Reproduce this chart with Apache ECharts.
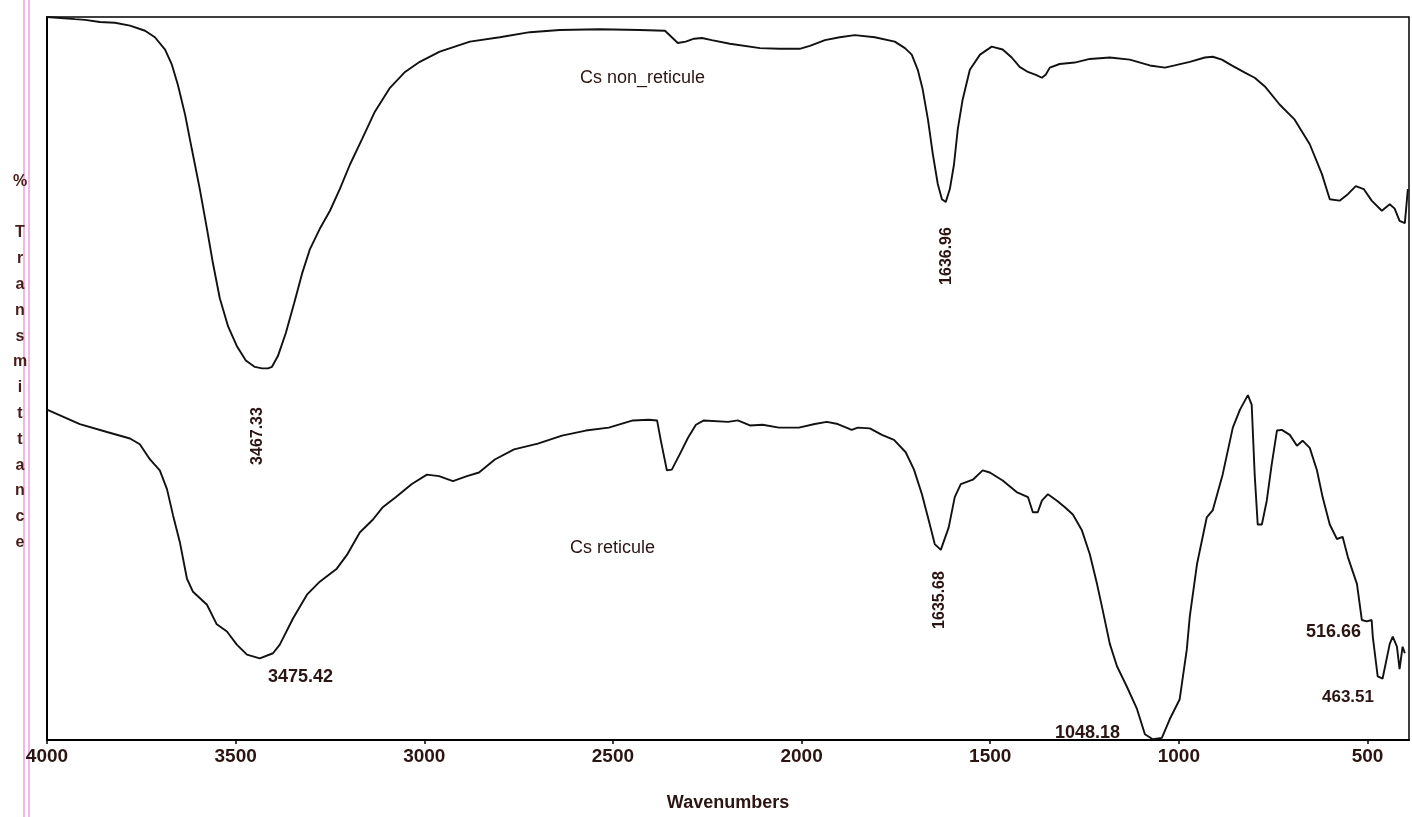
<!DOCTYPE html>
<html>
<head>
<meta charset="utf-8">
<script src="https://cdn.jsdelivr.net/npm/echarts@6/dist/echarts.min.js"></script>
<style>
html,body{margin:0;padding:0;background:#fff;}
#chart{width:1412px;height:817px;}
</style>
</head>
<body>
<div id="chart"></div>
<script>
// x-axis tick labels (wavenumbers, cm-1)
const xTicks = [500, 1000, 1500, 2000, 2500, 3000, 3500, 4000];

// Series names
const seriesNames = ['Cs non_reticule', 'Cs reticule'];

// Cs non_reticule : [wavenumber, %T]
const nonReticule = [
[4000,100.0],[3926,99.7],[3899,99.6],[3860,99.3],[3820,99.2],[3780,98.8],[3740,98.1],[3714,97.2],[3687,95.5],[3669,93.4],[3653,90.6],[3634,86.5],[3616,81.7],[3595,76.2],[3576,70.7],[3560,65.9],[3542,61.1],[3520,57.2],[3497,54.5],[3473,52.5],[3449,51.6],[3430,51.4],[3414,51.4],[3404,51.6],[3388,53.1],[3367,56.3],[3345,60.4],[3324,64.5],[3303,67.9],[3277,70.7],[3250,73.2],[3224,76.2],[3197,79.6],[3165,83.1],[3131,86.9],[3091,90.2],[3051,92.4],[3012,93.8],[2959,95.2],[2879,96.6],[2800,97.2],[2720,97.9],[2641,98.2],[2535,98.3],[2429,98.2],[2362,98.1],[2344,97.2],[2328,96.4],[2307,96.6],[2285,97.0],[2264,97.1],[2238,96.8],[2190,96.3],[2110,95.7],[2058,95.6],[2005,95.6],[1978,96.0],[1938,96.8],[1899,97.2],[1859,97.5],[1806,97.2],[1753,96.6],[1726,95.7],[1708,94.8],[1692,92.7],[1679,90.0],[1665,85.8],[1652,81.0],[1639,76.9],[1628,74.8],[1618,74.4],[1607,76.2],[1596,79.6],[1586,84.5],[1573,88.6],[1554,92.7],[1527,94.8],[1496,95.9],[1467,95.5],[1443,94.4],[1422,93.1],[1400,92.4],[1379,92.0],[1363,91.6],[1353,92.0],[1342,93.0],[1316,93.5],[1276,93.7],[1236,94.2],[1183,94.4],[1130,94.1],[1077,93.3],[1037,93.0],[1011,93.3],[971,93.8],[931,94.4],[910,94.5],[886,94.1],[860,93.3],[825,92.3],[799,91.6],[772,90.4],[733,87.9],[693,85.8],[653,82.4],[621,78.3],[600,74.8],[574,74.6],[552,75.5],[531,76.6],[510,76.2],[489,74.6],[462,73.2],[441,74.1],[428,73.5],[415,71.8],[401,71.5],[393,76.2]
];

// Cs reticule : [wavenumber, %T]
const reticule = [
[4000,45.7],[3913,43.7],[3841,42.6],[3780,41.7],[3754,40.9],[3727,38.8],[3701,37.3],[3682,34.7],[3666,31.1],[3648,27.4],[3629,22.3],[3613,20.5],[3576,18.7],[3550,16.0],[3523,15.0],[3497,13.2],[3470,11.8],[3436,11.3],[3401,12.0],[3383,13.2],[3348,16.8],[3311,20.1],[3277,21.9],[3232,23.7],[3205,25.6],[3171,28.7],[3136,30.5],[3110,32.2],[3075,33.6],[3033,35.4],[2993,36.7],[2961,36.5],[2924,35.8],[2887,36.5],[2855,37.0],[2813,38.8],[2762,40.2],[2699,41.0],[2635,42.1],[2572,42.8],[2511,43.2],[2447,44.2],[2405,44.3],[2383,44.2],[2373,41.4],[2357,37.3],[2344,37.4],[2323,39.5],[2301,41.8],[2280,43.6],[2259,44.2],[2195,44.0],[2169,44.2],[2137,43.5],[2103,43.6],[2060,43.2],[2007,43.2],[1965,43.7],[1933,44.0],[1904,43.7],[1867,42.9],[1851,43.2],[1819,43.1],[1787,42.2],[1755,41.5],[1724,39.8],[1702,37.4],[1681,34.0],[1663,30.4],[1647,27.1],[1631,26.3],[1610,29.4],[1594,33.6],[1578,35.4],[1546,36.0],[1520,37.3],[1501,37.0],[1467,35.9],[1430,34.3],[1400,33.6],[1387,31.5],[1374,31.5],[1363,33.1],[1347,34.0],[1323,33.1],[1302,32.2],[1281,31.2],[1257,29.0],[1236,25.7],[1217,21.6],[1202,18.0],[1183,13.3],[1164,10.2],[1138,7.4],[1111,4.3],[1090,0.8],[1069,0.1],[1045,0.3],[1024,2.9],[998,5.6],[979,12.5],[971,17.1],[952,24.3],[926,30.8],[910,31.8],[884,36.7],[857,43.2],[838,45.7],[817,47.7],[807,46.4],[799,36.7],[791,29.8],[780,29.8],[767,33.1],[754,38.1],[740,42.8],[727,42.9],[706,42.2],[687,40.7],[672,41.4],[653,40.4],[634,37.3],[619,33.6],[600,29.8],[581,27.8],[566,28.1],[552,25.3],[528,21.6],[515,16.6],[502,16.4],[489,16.6],[486,14.3],[473,8.8],[460,8.5],[441,13.3],[433,14.3],[422,12.9],[415,9.8],[407,12.9],[401,12.0]
];

// Peak annotation texts
const peakLabels = ['3467.33', '1636.96', '3475.42', '1635.68', '1048.18', '516.66', '463.51'];
const axisTitleX = 'Wavenumbers';
const axisTitleY = '%\n\nT\nr\na\nn\ns\nm\ni\nt\nt\na\nn\nc\ne';

const TXT = '#2b1512';
const FONT = '"Liberation Sans",Arial,sans-serif';

const chart = echarts.init(document.getElementById('chart'), null, {renderer: 'canvas'});

function txt(text, x, y, opts) {
  opts = opts || {};
  return {
    type: 'text', x: x, y: y, rotation: opts.rot || 0, z: 100,
    style: {
      text: text, fill: opts.color || TXT,
      font: (opts.weight || 'normal') + ' ' + (opts.size || 15) + 'px ' + (opts.family || FONT),
      align: opts.align || 'left', verticalAlign: 'middle',
      lineHeight: opts.lh
    }
  };
}

const option = {
  backgroundColor: '#ffffff',
  animation: false,
  grid: {
    left: 47, right: 3, top: 17, bottom: 73,
    show: true, borderColor: '#000', borderWidth: 1.5, backgroundColor: 'transparent'
  },
  xAxis: {
    type: 'value', inverse: true, min: 390, max: 4000,
    name: axisTitleX, nameLocation: 'middle', nameGap: 54,
    nameTextStyle: {color: TXT, fontSize: 18, fontWeight: 'bold', fontFamily: FONT},
    axisLine: {show: true, onZero: false, lineStyle: {color: '#000', width: 2}},
    axisTick: {show: true, inside: false, length: 4, customValues: xTicks, lineStyle: {color: '#000', width: 1.5}},
    axisLabel: {show: true, customValues: xTicks, margin: 7, color: TXT, fontSize: 19, fontWeight: 'bold',
      fontFamily: FONT, formatter: function (v) { return String(v); }},
    splitLine: {show: false}
  },
  yAxis: {
    type: 'value', min: 0, max: 100,
    axisLine: {show: true, lineStyle: {color: '#000', width: 2}},
    axisTick: {show: false}, axisLabel: {show: false}, splitLine: {show: false}
  },
  series: [
    {name: seriesNames[0], type: 'line', data: nonReticule, showSymbol: false, smooth: false,
      lineStyle: {color: '#111', width: 1.9}, clip: false},
    {name: seriesNames[1], type: 'line', data: reticule, showSymbol: false, smooth: false,
      lineStyle: {color: '#111', width: 1.9}, clip: false}
  ],
  graphic: [
    {type: 'line', shape: {x1: 24, y1: 0, x2: 24, y2: 817}, style: {stroke: '#e9a3dc', lineWidth: 1.5}},
    {type: 'line', shape: {x1: 29, y1: 0, x2: 29, y2: 817}, style: {stroke: '#e9a3dc', lineWidth: 1.5}},
    txt(axisTitleY, 20, 362, {align: 'center', weight: 'bold', size: 16, lh: 25.8, color: '#4a1c18'}),
    txt(seriesNames[0], 580, 78, {size: 18, weight: '500'}),
    txt(seriesNames[1], 570, 548, {size: 18, weight: '500'}),
    txt(peakLabels[0], 258, 436, {align: 'center', rot: Math.PI / 2, size: 16, weight: 'bold'}),
    txt(peakLabels[1], 947, 256, {align: 'center', rot: Math.PI / 2, size: 16, weight: 'bold'}),
    txt(peakLabels[2], 268, 677, {size: 18, weight: 'bold'}),
    txt(peakLabels[3], 940, 600, {align: 'center', rot: Math.PI / 2, size: 16, weight: 'bold'}),
    txt(peakLabels[4], 1055, 733, {size: 18, weight: 'bold'}),
    txt(peakLabels[5], 1306, 632, {size: 18, weight: 'bold'}),
    txt(peakLabels[6], 1322, 697, {size: 17, weight: 'bold'})
  ]
};
chart.setOption(option);
</script>
</body>
</html>
